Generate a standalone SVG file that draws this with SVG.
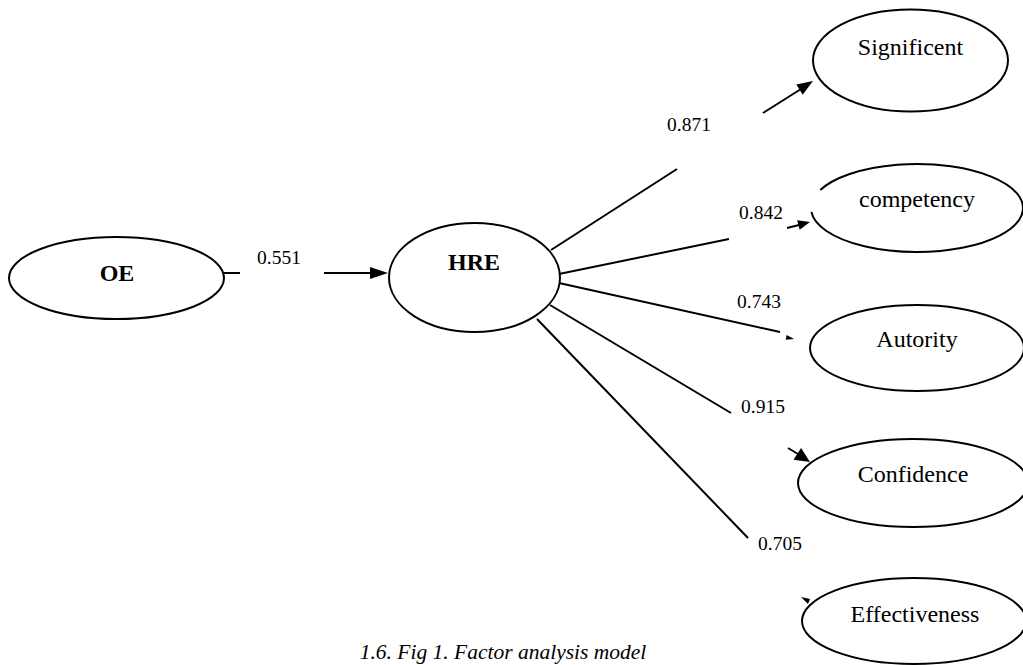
<svg xmlns="http://www.w3.org/2000/svg" width="1023" height="665" viewBox="0 0 1023 665">
<style>
.node{fill:#fff;stroke:#000;stroke-width:2}
.nt{font-family:"Liberation Serif","Times New Roman",serif;font-size:24px;fill:#000;text-anchor:middle}
.bt{font-family:"Liberation Serif","Times New Roman",serif;font-size:24px;font-weight:bold;fill:#000;text-anchor:middle}
.lbl{font-family:"Liberation Serif","Times New Roman",serif;font-size:19.5px;fill:#000}
.cap{font-family:"Liberation Serif","Times New Roman",serif;font-size:21.5px;font-style:italic;fill:#000;text-anchor:middle}
.ln{stroke:#000;stroke-width:2;fill:none}
.ah{fill:#000;stroke:none}
</style>
<rect width="1023" height="665" fill="#fff"/>
<g id="connectors">
<line class="ln" x1="224" y1="273" x2="240" y2="273"/>
<line class="ln" x1="324" y1="273" x2="372" y2="273"/>
<polygon class="ah" points="388,273 370,267 370,279"/>
<line class="ln" x1="551" y1="250" x2="677" y2="169"/>
<line class="ln" x1="763" y1="113" x2="801" y2="89"/>
<polygon class="ah" points="813,81 802.7,94.7 796.3,84.5"/>
<line class="ln" x1="559" y1="274" x2="729" y2="239"/>
<line class="ln" x1="787" y1="228" x2="799" y2="225"/>
<polygon class="ah" points="810,222 799.7,229.8 797.1,220.2"/>
<line class="ln" x1="559" y1="283" x2="780" y2="332"/>
<polygon class="ah" points="794,339 785.7,339.7 786.7,334.9"/>
<line class="ln" x1="550" y1="305" x2="731" y2="413"/>
<line class="ln" x1="788" y1="448" x2="798" y2="454"/>
<polygon class="ah" points="810,462 793.5,459.8 801.1,448"/>
<line class="ln" x1="537" y1="319" x2="748" y2="538"/>
<polygon class="ah" points="801,597 810,599 808,604"/>
</g>
<g id="labels">
<text class="lbl" x="257" y="264">0.551</text>
<text class="lbl" x="667" y="131">0.871</text>
<text class="lbl" x="739" y="219">0.842</text>
<text class="lbl" x="737" y="308">0.743</text>
<text class="lbl" x="741" y="413">0.915</text>
<text class="lbl" x="758" y="550">0.705</text>
</g>
<g id="OE">
<ellipse class="node" cx="116.5" cy="278" rx="107.5" ry="41"/>
<text class="bt" x="117" y="281">OE</text>
</g>
<g id="HRE">
<ellipse class="node" cx="474.5" cy="277.5" rx="85.5" ry="54.5"/>
<text class="bt" x="474" y="270">HRE</text>
</g>
<g id="Significent">
<ellipse class="node" cx="910.5" cy="60.5" rx="97.5" ry="51"/>
<text class="nt" x="910.5" y="55">Significent</text>
</g>
<g id="competency">
<path class="node" d="M 811.4 212 A 106 44 0 1 0 820.3 190"/>
<text class="nt" x="917" y="207">competency</text>
</g>
<g id="Autority">
<ellipse class="node" cx="917" cy="348" rx="107" ry="43"/>
<text class="nt" x="917" y="347">Autority</text>
</g>
<g id="Confidence">
<ellipse class="node" cx="913" cy="483" rx="115" ry="44"/>
<text class="nt" x="913" y="482">Confidence</text>
</g>
<g id="Effectiveness">
<ellipse class="node" cx="914" cy="621" rx="112" ry="43"/>
<text class="nt" x="915" y="622">Effectiveness</text>
</g>
<text class="cap" x="503" y="659">1.6. Fig 1. Factor analysis model</text>
</svg>
